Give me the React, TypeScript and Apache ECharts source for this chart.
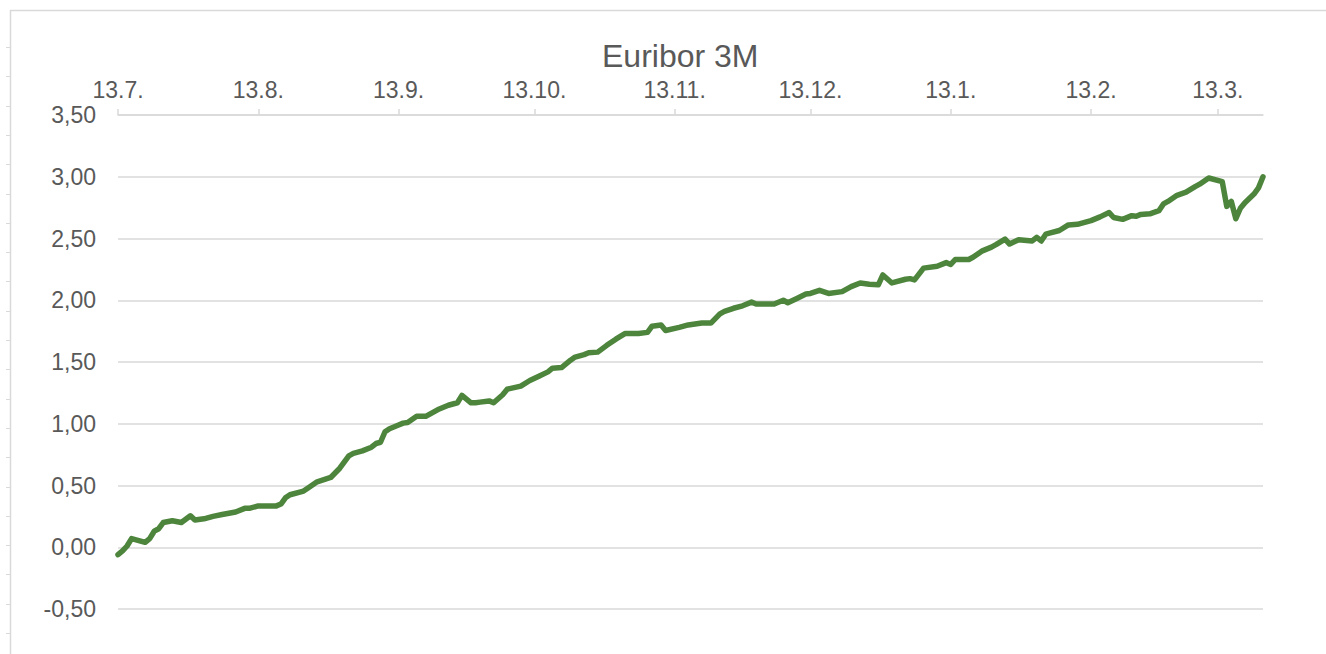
import React, { useEffect, useRef } from "react";
import * as echarts from "echarts";

const startDate = "2022-07-13";
const endDate = "2023-03-23";

const dates = [
  "2022-07-13", "2022-07-14", "2022-07-15", "2022-07-16", "2022-07-17", "2022-07-18", "2022-07-19", "2022-07-20",
  "2022-07-21", "2022-07-22", "2022-07-23", "2022-07-25", "2022-07-27", "2022-07-29", "2022-07-30",
  "2022-08-01", "2022-08-03", "2022-08-05", "2022-08-08", "2022-08-10", "2022-08-11", "2022-08-13",
  "2022-08-17", "2022-08-18", "2022-08-19", "2022-08-20", "2022-08-23", "2022-08-24", "2022-08-26",
  "2022-08-29", "2022-08-31",
  "2022-09-02", "2022-09-03", "2022-09-05", "2022-09-07", "2022-09-08", "2022-09-09", "2022-09-10",
  "2022-09-11", "2022-09-13", "2022-09-14", "2022-09-15", "2022-09-17", "2022-09-19", "2022-09-21",
  "2022-09-22", "2022-09-24", "2022-09-26", "2022-09-27", "2022-09-29", "2022-09-30",
  "2022-10-01", "2022-10-03", "2022-10-04", "2022-10-06", "2022-10-07", "2022-10-10", "2022-10-12",
  "2022-10-14", "2022-10-16", "2022-10-17", "2022-10-19", "2022-10-21", "2022-10-22", "2022-10-24",
  "2022-10-25", "2022-10-27", "2022-10-29", "2022-10-31",
  "2022-11-02", "2022-11-05", "2022-11-07", "2022-11-08", "2022-11-10", "2022-11-11", "2022-11-14",
  "2022-11-16", "2022-11-19", "2022-11-21", "2022-11-23", "2022-11-24", "2022-11-26", "2022-11-28",
  "2022-11-30",
  "2022-12-01", "2022-12-05", "2022-12-07", "2022-12-08", "2022-12-10", "2022-12-12", "2022-12-13",
  "2022-12-15", "2022-12-17", "2022-12-20", "2022-12-22", "2022-12-24", "2022-12-26", "2022-12-28",
  "2022-12-29", "2022-12-31",
  "2023-01-03", "2023-01-04", "2023-01-05", "2023-01-07", "2023-01-10", "2023-01-12", "2023-01-13",
  "2023-01-14", "2023-01-17", "2023-01-18", "2023-01-20", "2023-01-22", "2023-01-23", "2023-01-25",
  "2023-01-26", "2023-01-28", "2023-01-31",
  "2023-02-01", "2023-02-02", "2023-02-03", "2023-02-04", "2023-02-06", "2023-02-08", "2023-02-10",
  "2023-02-13", "2023-02-15", "2023-02-17", "2023-02-18", "2023-02-20", "2023-02-22", "2023-02-23",
  "2023-02-24", "2023-02-26", "2023-02-28",
  "2023-03-01", "2023-03-02", "2023-03-04", "2023-03-06", "2023-03-08", "2023-03-09", "2023-03-11",
  "2023-03-14", "2023-03-15", "2023-03-16", "2023-03-17", "2023-03-18", "2023-03-19", "2023-03-21",
  "2023-03-22", "2023-03-23",
];

const rates = [
  -0.06, -0.03, 0.01, 0.07, 0.06, 0.05, 0.04, 0.07,
  0.13, 0.15, 0.2, 0.215, 0.2, 0.255, 0.22,
  0.23, 0.25, 0.265, 0.285, 0.315, 0.315, 0.335,
  0.335, 0.35, 0.4, 0.425, 0.455, 0.48, 0.53,
  0.565, 0.64,
  0.74, 0.76, 0.78, 0.81, 0.84, 0.85, 0.935,
  0.96, 0.99, 1.005, 1.01, 1.06, 1.06, 1.1,
  1.12, 1.15, 1.17, 1.23, 1.17, 1.17,
  1.175, 1.185, 1.17, 1.235, 1.28, 1.305, 1.35,
  1.385, 1.42, 1.45, 1.455, 1.515, 1.54, 1.56,
  1.575, 1.58, 1.635, 1.685,
  1.73, 1.73, 1.74, 1.79, 1.8, 1.755, 1.78,
  1.8, 1.815, 1.815, 1.89, 1.91, 1.935, 1.955,
  1.985,
  1.97, 1.97, 2.0, 1.98, 2.015, 2.05, 2.055,
  2.08, 2.055, 2.07, 2.11, 2.14, 2.13, 2.125,
  2.205, 2.14,
  2.17, 2.175, 2.165, 2.26, 2.275, 2.305, 2.29,
  2.33, 2.33, 2.35, 2.4, 2.43, 2.45, 2.495,
  2.455, 2.49, 2.48,
  2.51, 2.48, 2.535, 2.545, 2.565, 2.61, 2.615,
  2.645, 2.675, 2.71, 2.67, 2.655, 2.685, 2.68,
  2.695, 2.7, 2.725,
  2.78, 2.8, 2.85, 2.875, 2.92, 2.94, 2.99,
  2.96, 2.76, 2.8, 2.66, 2.745, 2.79, 2.86,
  2.91, 3.0,
];

const yMin = -0.5;
const yMax = 3.5;
const yStep = 0.5;
const titleText = "Euribor 3M";

function buildDays(from: string, to: string): string[] {
  const out: string[] = [];
  const d = new Date(from + "T00:00:00Z");
  const end = new Date(to + "T00:00:00Z");
  while (d.getTime() <= end.getTime()) {
    out.push(d.toISOString().slice(0, 10));
    d.setUTCDate(d.getUTCDate() + 1);
  }
  return out;
}

const FONT = "'Liberation Sans', Arial, sans-serif";
const GRAY = "#595959";
const GRID = "#d9d9d9";

export default function App() {
  const ref = useRef<HTMLDivElement>(null);
  useEffect(() => {
    if (!ref.current) return;
    document.body.style.margin = "0";
    const chart = echarts.init(ref.current, undefined, { renderer: "svg" });
    const days = buildDays(startDate, endDate);
    const isTickDay = (_i: number, v: string) => v.slice(8, 10) === "13";
    const rowMarks: any[] = [];
    for (let k = 0; k <= 20; k++) {
      const y = Math.round(47 + k * 29.3) + 0.5;
      rowMarks.push({
        type: "line",
        shape: { x1: 6, y1: y, x2: 10, y2: y },
        style: { stroke: GRID, lineWidth: 1 },
        silent: true,
      });
    }
    chart.setOption({
      animation: false,
      backgroundColor: "#ffffff",
      title: {
        text: titleText,
        left: 597,
        top: 35,
        textStyle: { fontFamily: FONT, fontSize: 32, fontWeight: "normal", color: GRAY },
      },
      grid: { left: 118, right: 63, top: 115, bottom: 45, containLabel: false },
      xAxis: {
        type: "category",
        position: "top",
        data: days,
        boundaryGap: false,
        axisLine: { show: true, onZero: false, lineStyle: { color: GRID, width: 1.5 } },
        axisTick: { show: true, interval: isTickDay, length: 6, lineStyle: { color: GRID, width: 1.5 } },
        axisLabel: {
          interval: isTickDay,
          margin: 14,
          fontFamily: FONT,
          fontSize: 23,
          color: GRAY,
          formatter: (v: string) => `${parseInt(v.slice(8, 10), 10)}.${parseInt(v.slice(5, 7), 10)}.`,
        },
        splitLine: { show: false },
      },
      yAxis: {
        type: "value",
        min: yMin,
        max: yMax,
        interval: yStep,
        axisLine: { show: false },
        axisTick: { show: false },
        axisLabel: {
          margin: 22,
          fontFamily: FONT,
          fontSize: 23,
          color: GRAY,
          formatter: (v: number) => v.toFixed(2).replace(".", ","),
        },
        splitLine: { show: true, lineStyle: { color: GRID, width: 1.5 } },
      },
      series: [
        {
          type: "line",
          data: dates.map((d, i) => [d, rates[i]]),
          showSymbol: false,
          lineStyle: { color: "#4E853D", width: 5.5, cap: "round", join: "round" },
          itemStyle: { color: "#4E853D" },
        },
      ],
      graphic: [
        {
          type: "rect",
          shape: { x: 10.5, y: 10.5, width: 1400, height: 700 },
          style: { fill: "none", stroke: GRID, lineWidth: 1.5 },
          silent: true,
          z: -1,
        },
        ...rowMarks,
      ],
    });
    return () => chart.dispose();
  }, []);
  return (
    <div
      ref={ref}
      style={{ position: "fixed", left: 0, top: 0, width: 1326, height: 654, background: "#fff" }}
    />
  );
}
